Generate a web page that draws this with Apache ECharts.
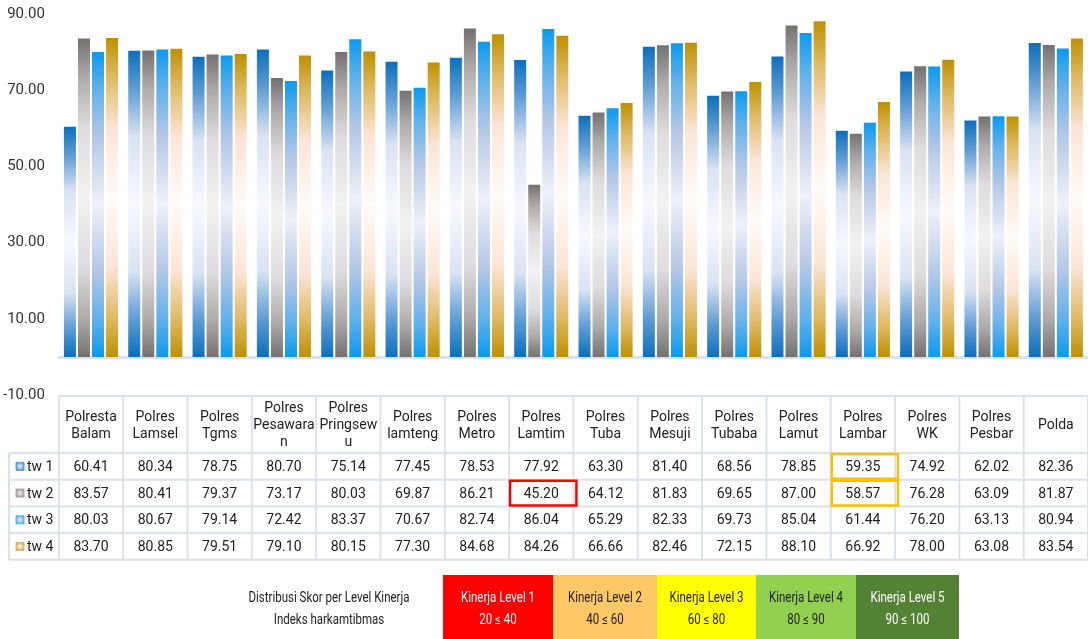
<!DOCTYPE html>
<html>
<head>
<meta charset="utf-8">
<script src="https://cdn.jsdelivr.net/npm/echarts@6/dist/echarts.min.js"></script>
<style>
  html, body { margin: 0; padding: 0; background: #fff; }
  #chart { width: 1088px; height: 639px; }
</style>
</head>
<body>
<div id="chart"></div>
<script>
// data
var categories = ['Polresta\nBalam', 'Polres\nLamsel', 'Polres\nTgms', 'Polres\nPesawara\nn', 'Polres\nPringsew\nu',
  'Polres\nlamteng', 'Polres\nMetro', 'Polres\nLamtim', 'Polres\nTuba', 'Polres\nMesuji', 'Polres\nTubaba',
  'Polres\nLamut', 'Polres\nLambar', 'Polres\nWK', 'Polres\nPesbar', 'Polda'];
var seriesNames = ['tw 1', 'tw 2', 'tw 3', 'tw 4'];
var tw1 = [60.41, 80.34, 78.75, 80.70, 75.14, 77.45, 78.53, 77.92, 63.30, 81.40, 68.56, 78.85, 59.35, 74.92, 62.02, 82.36];
var tw2 = [83.57, 80.41, 79.37, 73.17, 80.03, 69.87, 86.21, 45.20, 64.12, 81.83, 69.65, 87.00, 58.57, 76.28, 63.09, 81.87];
var tw3 = [80.03, 80.67, 79.14, 72.42, 83.37, 70.67, 82.74, 86.04, 65.29, 82.33, 69.73, 85.04, 61.44, 76.20, 63.13, 80.94];
var tw4 = [83.70, 80.85, 79.51, 79.10, 80.15, 77.30, 84.68, 84.26, 66.66, 82.46, 72.15, 88.10, 66.92, 78.00, 63.08, 83.54];
var yMin = -10, yMax = 90, yStep = 20;

// highlighted cells: [column, row]
var redCells = [[7, 1]];
var orangeCells = [[12, 0], [12, 1]];

var levelTitle = ['Distribusi Skor per Level Kinerja', 'Indeks harkamtibmas'];
var levelNames = ['Kinerja Level 1', 'Kinerja Level 2', 'Kinerja Level 3', 'Kinerja Level 4', 'Kinerja Level 5'];
var levelRanges = ['20 ≤ 40', '40 ≤ 60', '60 ≤ 80', '80 ≤ 90', '90 ≤ 100'];

// styles
var palette = [
  ['#0a6fbe', '#5b9bd5', '#dae3f3', '#f7f9fe'],
  ['#767171', '#aeaaaa', '#dedcdc', '#f2f2f2'],
  ['#0a9af0', '#5eb1ec', '#b4c7e7', '#eef1f8'],
  ['#bf9000', '#dfb960', '#fbe5d6', '#fffbf7']
];
var levelColors = ['#ff0000', '#fec866', '#ffff00', '#92d050', '#548235'];
var levelText = ['#fff', '#222', '#222', '#222', '#fff'];
var levelEdges = [443, 553, 657, 756, 856, 959];

var font = 'Roboto, "Noto Sans", sans-serif';
var narrow = '"Liberation Sans Narrow", Roboto, sans-serif';
var lineCol = '#dde2ea';

function grad(c) {
  return new echarts.graphic.LinearGradient(0, 0, 0, 1, [
    { offset: 0, color: c[0] },
    { offset: 0.12, color: c[1] },
    { offset: 0.28, color: c[2] },
    { offset: 0.5, color: c[3] },
    { offset: 0.72, color: c[2] },
    { offset: 0.88, color: c[1] },
    { offset: 1, color: c[0] }
  ]);
}

var chart = echarts.init(document.getElementById('chart'));
var values = [tw1, tw2, tw3, tw4];

chart.setOption({
  animation: false,
  grid: { left: 58, right: -3, top: 14, bottom: 244 },
  xAxis: {
    type: 'category',
    data: categories,
    axisLine: { lineStyle: { color: lineCol, width: 3 } },
    axisTick: { show: false },
    axisLabel: { show: false }
  },
  yAxis: {
    type: 'value',
    min: yMin, max: yMax, interval: yStep,
    splitLine: { show: false },
    axisLine: { show: false },
    axisTick: { show: false },
    axisLabel: {
      margin: 14,
      fontFamily: font, fontSize: 15, color: '#333',
      formatter: function (v) { return v.toFixed(2); }
    }
  },
  series: values.map(function (d, i) {
    return {
      name: seriesNames[i],
      type: 'bar',
      data: d,
      barWidth: 12,
      barGap: '17%',
      itemStyle: { color: grad(palette[i]) }
    };
  })
});

// table under the axis, columns taken from the category axis
var x0 = chart.convertToPixel({ xAxisIndex: 0 }, 0);
var band = chart.convertToPixel({ xAxisIndex: 0 }, 1) - x0;
var tableTop = chart.convertToPixel({ yAxisIndex: 0 }, yMin) + 1;
var headH = 57, rowH = 26.7, leftX = 9;
var colLeft = x0 - band / 2;
var g = [];

function line(x1, y1, x2, y2) {
  g.push({ type: 'line', shape: { x1: x1, y1: y1, x2: x2, y2: y2 }, style: { stroke: lineCol, lineWidth: 2 }, silent: true });
}
function text(x, y, s, size, color, fam, lh, sx) {
  g.push({ type: 'text', x: x, y: y, scaleX: sx || 1, silent: true,
    style: { text: s, align: 'center', verticalAlign: 'middle', font: size + 'px ' + fam, fill: color, lineHeight: lh || size + 3 } });
}

var rightX = colLeft + band * categories.length;
var tableBottom = tableTop + headH + rowH * 4;
line(colLeft, tableTop, rightX, tableTop);
for (var r = 0; r <= 4; r++) {
  line(leftX, tableTop + headH + r * rowH, rightX, tableTop + headH + r * rowH);
}
line(leftX, tableTop + headH, leftX, tableBottom);
for (var c = 0; c <= categories.length; c++) {
  line(colLeft + c * band, tableTop, colLeft + c * band, tableBottom);
}

categories.forEach(function (name, c) {
  var cx = chart.convertToPixel({ xAxisIndex: 0 }, c);
  text(cx, tableTop + headH / 2 + 1, name, 14, '#222', font, 17);
  values.forEach(function (d, r) {
    text(cx, tableTop + headH + r * rowH + rowH / 2 + 1, d[c].toFixed(2), 14, '#222', font);
  });
});

seriesNames.forEach(function (s, r) {
  var cy = tableTop + headH + r * rowH + rowH / 2;
  g.push({ type: 'rect', shape: { x: 16, y: cy - 4, width: 8, height: 8 }, silent: true,
    style: { fill: new echarts.graphic.RadialGradient(0.5, 0.5, 0.7, [{ offset: 0, color: palette[r][3] }, { offset: 1, color: palette[r][0] }]),
      stroke: palette[r][1], lineWidth: 1 } });
  g.push({ type: 'text', x: 27, y: cy + 1, silent: true,
    style: { text: s, align: 'left', verticalAlign: 'middle', font: '14px ' + font, fill: '#222' } });
});

function box(cell, color) {
  var y = tableTop + headH + cell[1] * rowH;
  g.push({ type: 'rect', silent: true,
    shape: { x: colLeft + cell[0] * band + 1, y: y + 1, width: band + 2, height: rowH - 2 },
    style: { fill: 'none', stroke: color, lineWidth: 2.5 } });
}
redCells.forEach(function (c) { box(c, '#ff0000'); });
orangeCells.forEach(function (c) { box(c, '#ffc000'); });

// level legend
text(329, 598, levelTitle[0], 14, '#222', narrow, 16, 0.82);
text(329, 620, levelTitle[1], 14, '#222', narrow, 16, 0.82);
levelNames.forEach(function (n, i) {
  var l = levelEdges[i], rr = levelEdges[i + 1];
  g.push({ type: 'rect', silent: true, shape: { x: l, y: 575, width: rr - l, height: 64 }, style: { fill: levelColors[i] } });
  text((l + rr) / 2, 598, n, 14, levelText[i], narrow, 16, 0.82);
  text((l + rr) / 2, 620, levelRanges[i], 14, levelText[i], narrow, 16, 0.82);
});

chart.setOption({ graphic: g });
</script>
</body>
</html>
